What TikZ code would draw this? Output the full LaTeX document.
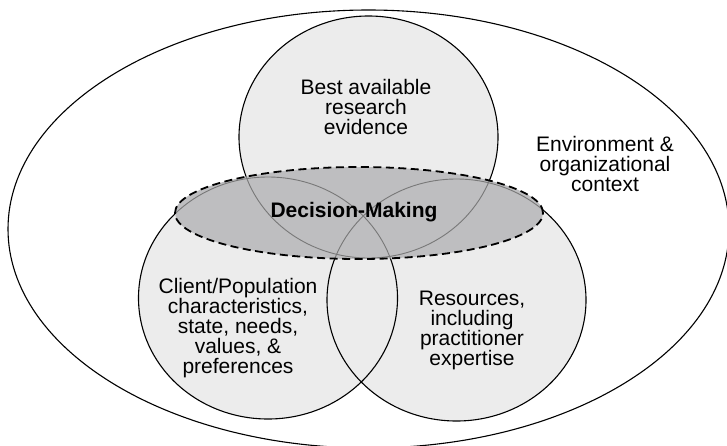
\documentclass[tikz,border=0pt]{standalone}
\usepackage{fontspec}
\setmainfont{Liberation Sans}
\usetikzlibrary{shapes.geometric}
\definecolor{circfill}{RGB}{236,236,236}
\definecolor{dmfill}{RGB}{190,190,192}
\definecolor{innerline}{RGB}{120,120,120}
\tikzset{
  circ/.style={ellipse, minimum width=259pt, minimum height=242pt, inner sep=0pt, outer sep=0pt, fill=circfill},
  outline/.style={line width=1.1pt, draw=black},
  innerl/.style={line width=0.9pt, draw=innerline},
  lbl/.style={align=center, inner sep=0pt, font=\fontsize{21}{20}\selectfont},
}
\begin{document}
\begin{tikzpicture}[x=1pt,y=-1pt]
\useasboundingbox (0,0) rectangle (727,445);
% outer context
\node[ellipse, minimum width=721pt, minimum height=438pt, inner sep=0pt, outer sep=0pt, outline] (env) at (368.5,229) {};
% circles (fill)
\node[circ] (topc) at (368.5,137) {};
\node[circ] (leftc) at (268,298) {};
\node[circ] (rightc) at (456.5,300) {};
% circle outlines
\foreach \c in {topc,leftc,rightc}
  \draw[outline] (\c.center) ellipse [x radius=129.5pt, y radius=121pt];
% decision making ellipse
\node[ellipse, minimum width=368pt, minimum height=92pt, inner sep=0pt, outer sep=0pt, fill=dmfill] (dm) at (359,213) {};
\begin{scope}
  \clip (dm.center) ellipse [x radius=184pt, y radius=46pt];
  \foreach \c in {topc,leftc,rightc}
    \draw[innerl] (\c.center) ellipse [x radius=129.5pt, y radius=121pt];
\end{scope}
\draw[line width=1.8pt, dash pattern=on 8pt off 4.5pt] (dm.center) ellipse [x radius=184pt, y radius=46pt];
% labels
\node[lbl] (tbest) at (366,107) {Best available\\research\\evidence};
\node[lbl] (tenv) at (605,164) {Environment \&\\organizational\\context};
\node[lbl, font=\fontsize{21}{20}\selectfont\bfseries] (tdm) at (354,212) {Decision-Making};
\node[lbl] (tclient) at (238,328) {Client/Population\\characteristics,\\state, needs,\\values, \&\\preferences};
\node[lbl] (tres) at (472,330) {Resources,\\including\\practitioner\\expertise};
\end{tikzpicture}
\end{document}
